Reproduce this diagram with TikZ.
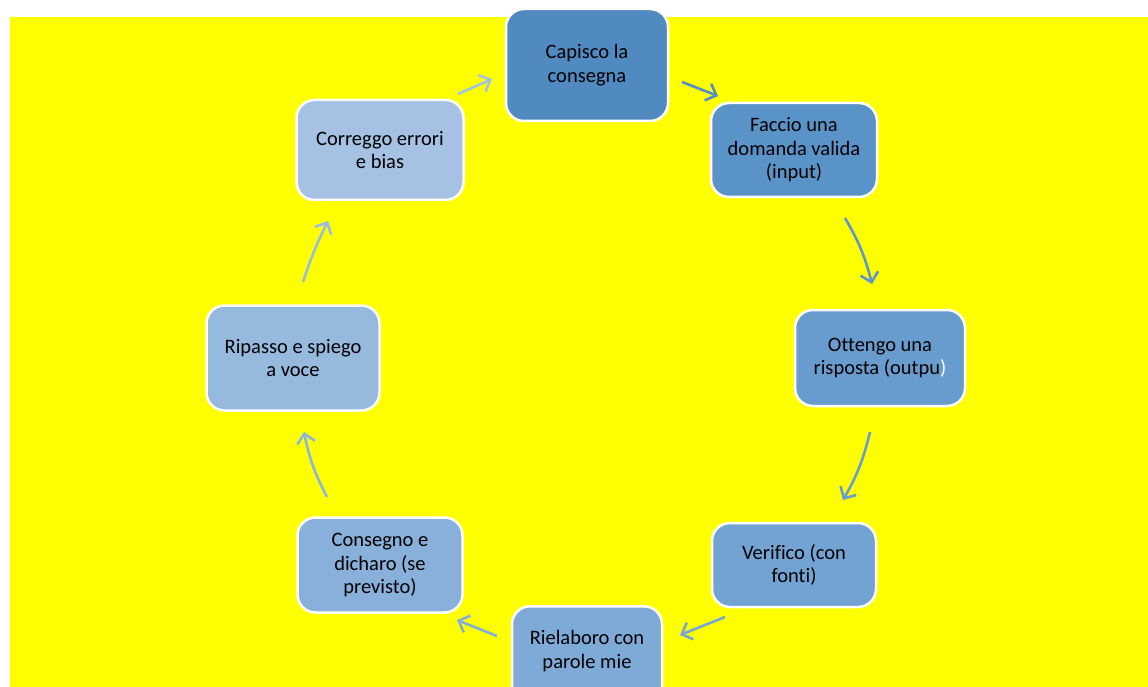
\documentclass[tikz,border=0pt]{standalone}
\usepackage{fontspec}
\setmainfont{Carlito}[Ligatures=NoCommon]
\usetikzlibrary{arrows.meta}
\definecolor{bgyellow}{RGB}{255,255,0}
\definecolor{c1}{RGB}{80,138,192}
\definecolor{c2}{RGB}{90,147,200}
\definecolor{c3}{RGB}{104,156,206}
\definecolor{c4}{RGB}{115,163,210}
\definecolor{c5}{RGB}{125,170,214}
\definecolor{c6}{RGB}{136,176,218}
\definecolor{c7}{RGB}{150,185,222}
\definecolor{c8}{RGB}{165,194,228}
\definecolor{a1}{RGB}{84,141,200}
\definecolor{a2}{RGB}{94,150,205}
\definecolor{a3}{RGB}{106,158,210}
\definecolor{a4}{RGB}{118,166,214}
\definecolor{a5}{RGB}{130,174,218}
\definecolor{a6}{RGB}{142,181,222}
\definecolor{a7}{RGB}{154,188,225}
\definecolor{a8}{RGB}{165,194,228}
\newcommand{\boxfont}{\fontsize{20.5}{23.5}\selectfont}
\tikzset{
  x=1pt, y=-1pt,
  stepbox/.style={draw=white, line width=2.5pt, rounded corners=18pt, minimum width=#1pt, align=center, font=\boxfont, text=black, inner sep=0pt},
  conn/.style={line width=2.6pt, -{Straight Barb[length=9pt,width=18pt,line width=2.6pt]}}
}
\begin{document}
\begin{tikzpicture}
\useasboundingbox (0,0) rectangle (1148,687);
\clip (0,0) rectangle (1148,687);
\fill[white] (0,0) rectangle (1148,687);
\fill[bgyellow] (10,17) rectangle (1148,687);
% boxes
\node[stepbox=162, fill=c1, minimum height=112pt] (b1) at (587,65) {Capisco la\\consegna};
\node[stepbox=166, fill=c2, minimum height=94pt] (b2) at (794,150) {Faccio una\\domanda valida\\(input)};
\node[stepbox=170, fill=c3, minimum height=96pt] (b3) at (880,358) {Ottengo una\\risposta (outpu{\color{white})}};
\node[stepbox=164, fill=c4, minimum height=84pt] (b4) at (794,565) {Verifico (con\\fonti)};
\node[stepbox=150, fill=c5, minimum height=100pt, anchor=north] (b5) at (587,605) {};
\node[align=center, font=\boxfont, inner sep=0pt] (t5) at (587,651) {Rielaboro con\\parole mie};
\node[stepbox=165, fill=c6, minimum height=95pt] (b6) at (380,565) {Consegno e\\dicharo (se\\previsto)};
\node[stepbox=173, fill=c7, minimum height=105pt] (b7) at (293,358) {Ripasso e spiego\\a voce};
\node[stepbox=167, fill=c8, minimum height=100pt] (b8) at (380,150) {Correggo errori\\e bias};
% connector end points
\coordinate (s1) at (682,82);  \coordinate (e1) at (718,96);
\coordinate (s2) at (845,218); \coordinate (e2) at (872,284);
\coordinate (s3) at (870,432); \coordinate (e3) at (843,500);
\coordinate (s4) at (725,617); \coordinate (e4) at (680,635);
\coordinate (s5) at (497,636); \coordinate (e5) at (457,620);
\coordinate (s6) at (327,497); \coordinate (e6) at (304,432);
\coordinate (s7) at (303,282); \coordinate (e7) at (328,221);
\coordinate (s8) at (458,94);  \coordinate (e8) at (492,79);
\draw[conn, a1] (s1) -- (e1);
\draw[conn, a2] (s2) to[bend left=8] (e2);
\draw[conn, a3] (s3) to[bend left=8] (e3);
\draw[conn, a4] (s4) -- (e4);
\draw[conn, a5] (s5) -- (e5);
\draw[conn, a6] (s6) to[bend left=8] (e6);
\draw[conn, a7] (s7) to[bend left=4] (e7);
\draw[conn, a8] (s8) -- (e8);
\end{tikzpicture}
\end{document}
